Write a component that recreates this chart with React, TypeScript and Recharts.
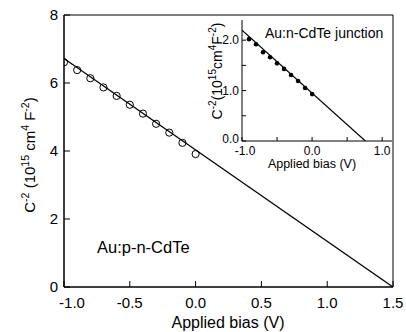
import React from 'react';
import { ComposedChart, Scatter, Line, XAxis, YAxis, ReferenceArea } from 'recharts';

const FONT = '"Liberation Sans", Arial, Helvetica, sans-serif';
const INK = '#000';

// Main plot: Au:p-n-CdTe, C^-2 versus applied bias
const mainBias = [-1.0, -0.9, -0.8, -0.7, -0.6, -0.5, -0.4, -0.3, -0.2, -0.1, 0.0];
const mainInvCap2 = [6.61, 6.38, 6.14, 5.87, 5.62, 5.36, 5.1, 4.8, 4.54, 4.24, 3.91];
const mainFitBias = [-1.0, 1.5];
const mainFitValue = [6.72, 0];
const mainXTicks = [-1, -0.5, 0, 0.5, 1, 1.5];
const mainYTicks = [0, 2, 4, 6, 8];

// Inset: Au:n-CdTe junction
const insetBias = [-0.9, -0.8, -0.7, -0.6, -0.5, -0.4, -0.3, -0.2, -0.1, 0.0];
const insetInvCap2 = [2.02, 1.92, 1.76, 1.66, 1.54, 1.43, 1.31, 1.19, 1.05, 0.93];
const insetFitBias = [-1.0, 0.76];
const insetFitValue = [2.2, 0];
const insetXTicks = [-1, -0.5, 0, 0.5, 1];
const insetYTicks = [0, 0.5, 1, 1.5, 2];

const zip = (xs: number[], ys: number[]) => xs.map((x, i) => ({ x, y: ys[i] }));

const mainPoints = zip(mainBias, mainInvCap2);
const mainFit = zip(mainFitBias, mainFitValue);
const insetPoints = zip(insetBias, insetInvCap2);
const insetFit = zip(insetFitBias, insetFitValue);

type Part = { t: string; sup?: boolean };

function SupText(props: {
  x: number;
  y: number;
  parts: Part[];
  size: number;
  supSize: number;
  rotate?: boolean;
  anchor?: 'start' | 'middle' | 'end';
}) {
  const { x, y, parts, size, supSize, rotate, anchor = 'start' } = props;
  const rise = size * 0.42;
  let prevSup = false;
  const spans = parts.map((p, i) => {
    let dy = 0;
    if (p.sup && !prevSup) dy = -rise;
    else if (!p.sup && prevSup) dy = rise;
    prevSup = !!p.sup;
    return (
      <tspan key={i} dy={dy} fontSize={p.sup ? supSize : size}>
        {p.t}
      </tspan>
    );
  });
  return (
    <text
      x={x}
      y={y}
      textAnchor={anchor}
      fontFamily={FONT}
      fill={INK}
      fontSize={size}
      style={{ whiteSpace: 'pre' }}
      transform={rotate ? `rotate(-90 ${x} ${y})` : undefined}
    >
      {spans}
    </text>
  );
}

const mainYLabel: Part[] = [
  { t: 'C' },
  { t: '-2', sup: true },
  { t: ' (10' },
  { t: '15', sup: true },
  { t: ' cm' },
  { t: '4', sup: true },
  { t: ' F' },
  { t: '-2', sup: true },
  { t: ')' },
];

const insetYLabel: Part[] = [
  { t: 'C' },
  { t: '-2', sup: true },
  { t: '(10' },
  { t: '15', sup: true },
  { t: 'cm' },
  { t: '4', sup: true },
  { t: 'F' },
  { t: '-2', sup: true },
  { t: ')' },
];

const MainXTick = (props: any) => {
  const { x, y, payload } = props;
  const v = payload.value as number;
  return (
    <text
      x={x + (v === -1 ? 8 : 0)}
      y={y}
      dy="0.71em"
      textAnchor="middle"
      fontSize={15}
      fontFamily={FONT}
      fill={INK}
    >
      {v.toFixed(1)}
    </text>
  );
};

// Inset ticks: labels only on whole volts / whole units
const InsetXTick = (props: any) => {
  const { x, y, payload } = props;
  const v = payload.value as number;
  if (!Number.isInteger(v)) return <g />;
  return (
    <text
      x={x + (v === -1 ? 3 : 0)}
      y={y}
      dy="0.71em"
      textAnchor="middle"
      fontSize={12}
      fontFamily={FONT}
      fill={INK}
    >
      {v.toFixed(1)}
    </text>
  );
};

const InsetYTick = (props: any) => {
  const { x, y, payload } = props;
  const v = payload.value as number;
  if (!Number.isInteger(v)) return <g />;
  return (
    <text
      x={x}
      y={y + (v === 0 ? -2 : 0)}
      dy="0.35em"
      textAnchor="end"
      fontSize={12}
      fontFamily={FONT}
      fill={INK}
    >
      {v.toFixed(1)}
    </text>
  );
};

const OpenCircle = (props: any) => (
  <circle cx={props.cx} cy={props.cy} r={3.6} fill="none" stroke={INK} strokeWidth={1} />
);

const SmallDot = (props: any) => (
  <circle cx={props.cx} cy={props.cy} r={2.3} fill={INK} stroke="none" />
);

function MainChart() {
  return (
    <ComposedChart width={406} height={332} margin={{ top: 15, right: 13, bottom: 15, left: 24 }}>
      <XAxis
        type="number"
        dataKey="x"
        domain={[-1, 1.5]}
        ticks={mainXTicks}
        allowDataOverflow
        height={30}
        stroke={INK}
        tickSize={-6}
        tickMargin={16}
        tick={<MainXTick />}
      />
      <YAxis
        type="number"
        dataKey="y"
        domain={[0, 8]}
        ticks={mainYTicks}
        allowDataOverflow
        width={40}
        stroke={INK}
        tickSize={-6}
        tickMargin={12}
        tick={{ fontSize: 15, fontFamily: FONT, fill: INK }}
      />
      <ReferenceArea x1={-1} x2={1.5} y1={0} y2={8} fill="none" stroke={INK} strokeWidth={1} ifOverflow="visible" />
      <Scatter data={mainPoints} shape={<OpenCircle />} isAnimationActive={false} />
      <Line
        data={mainFit}
        dataKey="y"
        type="linear"
        stroke={INK}
        strokeWidth={1.3}
        dot={false}
        activeDot={false}
        isAnimationActive={false}
      />
      <SupText x={35} y={155} parts={mainYLabel} size={15} supSize={10.5} rotate anchor="middle" />
      <text x={228} y={328} textAnchor="middle" fontFamily={FONT} fontSize={16} fill={INK}>
        Applied bias (V)
      </text>
      <text x={97} y={253} fontFamily={FONT} fontSize={16.5} fill={INK}>
        Au:p-n-CdTe
      </text>
    </ComposedChart>
  );
}

function InsetChart() {
  return (
    <ComposedChart width={212} height={175} margin={{ top: 20, right: 10, bottom: 4, left: 12 }}>
      <XAxis
        type="number"
        dataKey="x"
        domain={[-1, 1.14]}
        ticks={insetXTicks}
        allowDataOverflow
        height={30}
        stroke={INK}
        tickSize={-4}
        tickMargin={9}
        tick={<InsetXTick />}
      />
      <YAxis
        type="number"
        dataKey="y"
        domain={[0, 2.4]}
        ticks={insetYTicks}
        allowDataOverflow
        width={40}
        stroke={INK}
        tickSize={-4}
        tickMargin={7}
        tick={<InsetYTick />}
      />
      <Scatter data={insetPoints} shape={<SmallDot />} isAnimationActive={false} />
      <Line
        data={insetFit}
        dataKey="y"
        type="linear"
        stroke={INK}
        strokeWidth={1.2}
        dot={false}
        activeDot={false}
        isAnimationActive={false}
      />
      <SupText x={32} y={71} parts={insetYLabel} size={14} supSize={10} rotate anchor="middle" />
      <text x={122} y={168} textAnchor="middle" fontFamily={FONT} fontSize={12.5} fill={INK}>
        Applied bias (V)
      </text>
      <text x={75} y={38} fontFamily={FONT} fontSize={14} fill={INK}>
        Au:n-CdTe junction
      </text>
    </ComposedChart>
  );
}

export default function App() {
  return (
    <div style={{ position: 'absolute', left: 0, top: 0, width: 406, height: 332, background: '#fff' }}>
      <MainChart />
      <div style={{ position: 'absolute', left: 190, top: 0 }}>
        <InsetChart />
      </div>
    </div>
  );
}
